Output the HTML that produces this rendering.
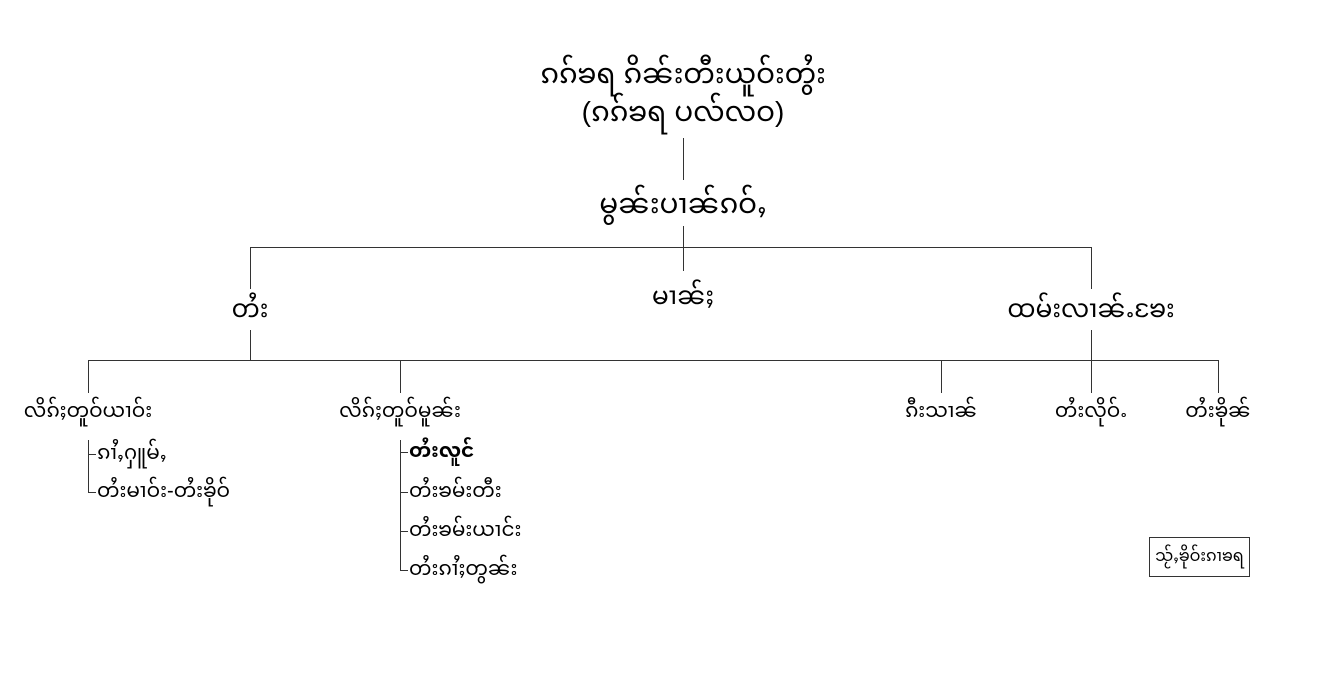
<!DOCTYPE html>
<html><head><meta charset="utf-8">
<style>
body{margin:0;width:1322px;height:697px;background:#fff;position:relative;overflow:hidden;font-family:"Liberation Sans","Noto Sans Myanmar","Padauk","DejaVu Sans",sans-serif;color:#000}
.t{position:absolute;white-space:nowrap;line-height:1}
.c{transform:translateX(-50%)}
.l{position:absolute;background:#333}
.h{height:1px}
.v{width:1px}
.big{font-size:28px}
.mid{font-size:25px}
.sm{font-size:20px}
</style></head><body>
<div class="t c big" style="left:683px;top:60px">ၵၵ်ၶရ ၵိၼ်းတီးယူဝ်းတွႆး</div>
<div class="t c big" style="left:683px;top:98px">(ၵၵ်ၶရ ပလ်လဝ)</div>
<div class="l v" style="left:683px;top:138px;height:42px"></div>
<div class="t c big" style="left:683px;top:190px">မွၼ်းပၢၼ်ၵဝ်ႇ</div>
<div class="l v" style="left:683px;top:226px;height:45px"></div>
<div class="l h" style="left:250px;top:247px;width:842px"></div>
<div class="l v" style="left:250px;top:247px;height:42px"></div>
<div class="l v" style="left:1091px;top:247px;height:42px"></div>
<div class="t c mid" style="left:250px;top:297px">တႆး</div>
<div class="t c mid" style="left:683px;top:284px">မၢၼ်ႈ</div>
<div class="t c mid" style="left:1091px;top:297px">ထမ်းလၢၼ်ႉၶႄး</div>
<div class="l v" style="left:250px;top:330px;height:30px"></div>
<div class="l v" style="left:1091px;top:330px;height:63px"></div>
<div class="l h" style="left:88px;top:360px;width:1131px"></div>
<div class="l v" style="left:88px;top:360px;height:33px"></div>
<div class="l v" style="left:400px;top:360px;height:33px"></div>
<div class="l v" style="left:941px;top:360px;height:33px"></div>
<div class="l v" style="left:1218px;top:360px;height:33px"></div>
<div class="t c sm" style="left:88px;top:401px">လိၵ်ႈတူဝ်ယၢဝ်း</div>
<div class="t c sm" style="left:400px;top:401px">လိၵ်ႈတူဝ်မူၼ်း</div>
<div class="t c sm" style="left:941px;top:401px">ၵီးသၢၼ်</div>
<div class="t c sm" style="left:1091px;top:401px">တႆးလိုဝ်ႉ</div>
<div class="t c sm" style="left:1218px;top:401px">တႆးၶိုၼ်</div>
<div class="l v" style="left:88px;top:440px;height:52px"></div>
<div class="l h" style="left:88px;top:454px;width:8px"></div>
<div class="l h" style="left:88px;top:492px;width:8px"></div>
<div class="t sm" style="left:97px;top:443px">ၵၢႆႇႁူမ်ႇ</div>
<div class="t sm" style="left:97px;top:481px">တႆးမၢဝ်း-တႆးၶိုဝ်</div>
<div class="l v" style="left:400px;top:440px;height:130px"></div>
<div class="l h" style="left:400px;top:452px;width:8px"></div>
<div class="l h" style="left:400px;top:492px;width:8px"></div>
<div class="l h" style="left:400px;top:531px;width:8px"></div>
<div class="l h" style="left:400px;top:570px;width:8px"></div>
<div class="t sm" style="left:409px;top:441px;font-weight:bold">တႆးလူင်</div>
<div class="t sm" style="left:409px;top:481px">တႆးၶမ်းတီး</div>
<div class="t sm" style="left:409px;top:520px">တႆးၶမ်းယၢင်း</div>
<div class="t sm" style="left:409px;top:559px">တႆးၵၢႆႈတွၼ်း</div>
<div style="position:absolute;left:1149px;top:537px;width:101px;height:40px;border:1px solid #333;box-sizing:border-box;font-size:16px;text-align:center;line-height:38px;white-space:nowrap">သႂ်ႇၶိုဝ်းၵၢၶရ</div>
</body></html>
